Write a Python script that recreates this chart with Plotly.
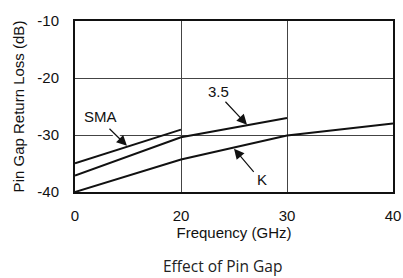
import numpy as np
import plotly.graph_objects as go

# ---- data ----
freq_ticks = [0, 20, 30, 40]
tick_labels = ["0", "20", "30", "40"]
rl_ticks = [-40, -30, -20, -10]
rl_labels = ["-40", "-30", "-20", "-10"]

sma_freq = [0, 20]
sma_rl = [-34.95, -29.05]

f35_freq = [0, 10, 20, 30]
f35_rl = [-37.1, -33.8, -30.4, -27.0]

k_freq = [0, 10, 20, 30, 35, 40]
k_rl = [-40.0, -37.2, -34.3, -30.1, -29.0, -28.0]

# the printed frequency axis is segmented: 0-20, 20-30, 30-40 each take one grid cell
def fpos(f):
    return np.interp(f, freq_ticks, np.arange(len(freq_ticks)))

FONT = "Liberation Sans, Arial, Helvetica, sans-serif"

fig = go.Figure()
for fx, ry in [(sma_freq, sma_rl), (f35_freq, f35_rl), (k_freq, k_rl)]:
    fig.add_trace(go.Scatter(x=fpos(fx), y=ry, mode="lines",
                             line=dict(color="#111", width=2),
                             hoverinfo="skip", showlegend=False))

def arrow(tx, ty, hx, hy):
    # white halo then black arrow
    for col, w in [("white", 5), ("#111", 1.2)]:
        fig.add_annotation(x=hx, y=hy, ax=tx, ay=ty, xref="x", yref="y",
                           axref="x", ayref="y", text="", showarrow=True,
                           arrowhead=2 if col != "white" else 0,
                           arrowsize=1.7 if col != "white" else 1,
                           arrowwidth=w, arrowcolor=col,
                           standoff=0 if col != "white" else 8, startstandoff=0)

def label(x, y, t):
    fig.add_annotation(x=x, y=y, xref="x", yref="y", text=t, showarrow=False,
                       font=dict(family=FONT, size=15, color="#111"))

arrow(0.311, -28.65, 0.49, -31.9)
label(0.245, -26.7, "SMA")
arrow(1.406, -23.9, 1.623, -28.2)
label(1.358, -22.3, "3.5")
arrow(1.698, -36.75, 1.5, -32.4)
label(1.764, -37.8, "K")

W, H = 403, 278
ML, MR, MT, MB = 75, 10, 21, 86
PW, PH = W - ML - MR, H - MT - MB

fig.add_annotation(x=(222 - ML) / PW, y=-(266 - (H - MB)) / PH, xref="paper", yref="paper",
                   xanchor="center", yanchor="middle", text="Effect of Pin Gap",
                   showarrow=False, font=dict(family="Open Sans, sans-serif", size=15.5, color="#222"))

fig.update_layout(
    width=W, height=H,
    margin=dict(l=ML, r=MR, t=MT, b=MB, pad=0),
    paper_bgcolor="white", plot_bgcolor="white",
    font=dict(family=FONT, size=15, color="#111"),
)

fig.update_xaxes(range=[0, 3], tickvals=fpos(freq_ticks), ticktext=tick_labels,
                 showgrid=True, gridcolor="#444", gridwidth=1,
                 showline=True, linecolor="#111", linewidth=2, mirror=True,
                 ticks="outside", ticklen=9, tickcolor="rgba(0,0,0,0)",
                 zeroline=False, automargin=False, ticklabeloverflow="allow",
                 title=dict(text="Frequency (GHz)", standoff=4,
                            font=dict(family=FONT, size=15)))
fig.update_yaxes(range=[-40, -10], tickvals=rl_ticks, ticktext=rl_labels,
                 showgrid=True, gridcolor="#444", gridwidth=1,
                 showline=True, linecolor="#111", linewidth=2, mirror=True,
                 ticks="outside", ticklen=11, tickcolor="rgba(0,0,0,0)",
                 zeroline=False, automargin=False,
                 title=dict(text="Pin Gap Return Loss (dB)", standoff=9,
                            font=dict(family=FONT, size=15)))

fig.write_html("out.html", config={"displayModeBar": False},
               post_script="document.body.style.margin='0';")
